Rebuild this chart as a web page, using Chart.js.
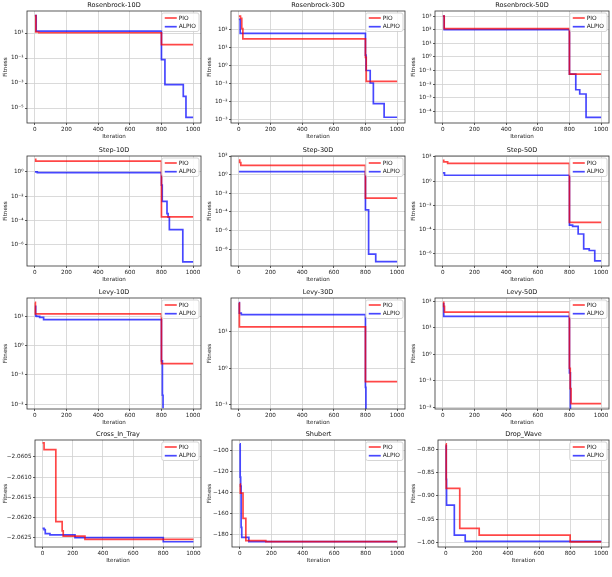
<!doctype html>
<html>
<head>
<meta charset="utf-8">
<title>PIO vs ALPIO convergence</title>
<style>
  html, body { margin:0; padding:0; background:#fff; }
  #grid { position:relative; width:612px; height:577px; overflow:hidden; }
  #grid canvas { position:absolute; }
</style>
</head>
<body>
<div id="grid"></div>
<script src="https://cdn.jsdelivr.net/npm/chart.js@4.4.1/dist/chart.umd.min.js"></script>
<script>
// ---- data ----
const titles = ['Rosenbrock-10D', 'Rosenbrock-30D', 'Rosenbrock-50D',
                'Step-10D', 'Step-30D', 'Step-50D',
                'Levy-10D', 'Levy-30D', 'Levy-50D',
                'Cross_In_Tray', 'Shubert', 'Drop_Wave'];
const seriesNames = ['PIO', 'ALPIO'];
const iterTicks = [0, 200, 400, 600, 800, 1000];
const iterRange = [-50, 1050];

// Rosenbrock-10D
const rb10PioIter = [0, 6, 25, 800, 1000];
const rb10PioFit = [245, 12, 10.5, 1.17, 1.17];
const rb10AlpioIter = [0, 8, 800, 822, 938, 955, 1000];
const rb10AlpioFit = [245, 14, 0.074, 7.4e-4, 8.5e-5, 1.8e-6, 1.8e-6];
const rb10Exp = [1, -1, -3, -5];
const rb10Range = [-6.2, 2.76]; // log10

// Rosenbrock-30D
const rb30PioIter = [0, 10, 18, 25, 800, 805, 1000];
const rb30PioFit = [600, 450, 120, 31.6, 3, 0.135, 0.135];
const rb30AlpioIter = [0, 8, 800, 804, 830, 850, 918, 1000];
const rb30AlpioFit = [390, 65, 4, 0.55, 0.11, 0.0078, 0.00135, 0.00135];
const rb30Exp = [2, 1, 0, -1, -2, -3];
const rb30Range = [-3.19, 3.06];

// Rosenbrock-50D
const rb50PioIter = [0, 8, 800, 1000];
const rb50PioFit = [1000, 118, 0.054, 0.054];
const rb50AlpioIter = [0, 8, 800, 840, 865, 905, 1000];
const rb50AlpioFit = [1000, 100, 0.054, 0.0039, 0.0019, 3.6e-5, 3.6e-5];
const rb50Exp = [3, 2, 1, 0, -1, -2, -3, -4];
const rb50Range = [-4.85, 3.37];

// Step-10D
const st10PioIter = [0, 5, 800, 1000];
const st10PioFit = [10.5, 7.6, 2e-4, 2e-4];
const st10AlpioIter = [0, 15, 800, 805, 835, 842, 850, 935, 1000];
const st10AlpioFit = [1.0, 0.85, 0.08, 0.0037, 3.6e-4, 1.9e-4, 1.8e-5, 4e-8, 4e-8];
const st10Exp = [0, -2, -4, -6];
const st10Range = [-7.74, 1.3];

// Step-30D
const st30PioIter = [0, 5, 12, 800, 1000];
const st30PioFit = [37, 20, 10, 0.003, 0.003];
const st30AlpioIter = [0, 800, 820, 865, 1000];
const st30AlpioFit = [2.1, 1.6e-4, 2.9e-9, 4.4e-10, 4.4e-10];
const st30Exp = [2, 0, -2, -4, -6, -8];
const st30Range = [-9.82, 2.0];

// Step-50D
const st50PioIter = [0, 5, 30, 800, 1000];
const st50PioFit = [53, 39, 30, 4e-4, 4e-4];
const st50AlpioIter = [0, 10, 800, 820, 855, 890, 925, 960, 1000];
const st50AlpioFit = [4.8, 3.1, 2.4e-4, 1.9e-4, 4.4e-5, 2.6e-6, 1.9e-6, 2.6e-7, 2.6e-7];
const st50Exp = [2, 0, -2, -4, -6];
const st50Range = [-7.0, 2.08];

// Levy-10D (ALPIO reaches 0 after ~810, so its line ends there)
const lv10PioIter = [0, 3, 800, 1000];
const lv10PioFit = [30, 12.3, 0.24, 0.24];
const lv10AlpioIter = [0, 5, 10, 30, 55, 800, 806, 810];
const lv10AlpioFit = [22, 10.5, 10, 9.3, 7.7, 0.3, 0.02, 0.0072];
const lv10Exp = [1, 0, -1, -2];
const lv10Range = [-2.17, 1.63];

// Levy-30D
const lv30PioIter = [0, 3, 800, 1000];
const lv30PioFit = [58, 13.1, 0.43, 0.43];
const lv30AlpioIter = [0, 3, 15, 800, 803];
const lv30AlpioFit = [60, 31, 28, 0.3, 0.07];
const lv30Exp = [1, 0, -1];
const lv30Range = [-1.11, 1.9];

// Levy-50D
const lv50PioIter = [0, 5, 10, 800, 805, 810, 1000];
const lv50PioFit = [92, 65, 39, 0.3, 0.051, 0.014, 0.014];
const lv50AlpioIter = [0, 5, 800, 806];
const lv50AlpioFit = [81, 27, 0.2, 0.008];
const lv50Exp = [2, 1, 0, -1, -2];
const lv50Range = [-2.06, 2.125];

// Cross_In_Tray
const citPioIter = [0, 10, 88, 130, 137, 281, 1000];
const citPioFit = [-2.06015, -2.06032, -2.0621, -2.06233, -2.06246, -2.06254, -2.06254];
const citAlpioIter = [0, 10, 18, 49, 215, 800, 1000];
const citAlpioFit = [-2.06227, -2.0623, -2.0624, -2.06243, -2.0625, -2.0626, -2.0626];
const citTicks = [-2.0605, -2.0610, -2.0615, -2.0620, -2.0625];
const citTickLabels = ['\u22122.0605', '\u22122.0610', '\u22122.0615', '\u22122.0620', '\u22122.0625'];
const citRange = [-2.06273, -2.06008];

// Shubert
const shuPioIter = [0, 3, 20, 38, 165, 1000];
const shuPioFit = [-132, -140.5, -164.6, -185.6, -186.6, -186.6];
const shuAlpioIter = [0, 2, 5, 8, 12, 57, 1000];
const shuAlpioFit = [-93.8, -125.5, -134, -173, -182.5, -186.6, -186.6];
const shuTicks = [-100, -120, -140, -160, -180];
const shuTickLabels = ['\u2212100', '\u2212120', '\u2212140', '\u2212160', '\u2212180'];
const shuRange = [-191.7, -90.2];

// Drop_Wave
const dwPioIter = [0, 3, 90, 215, 800, 1000];
const dwPioFit = [-0.7875, -0.8836, -0.970, -0.985, -0.9995, -0.9995];
const dwAlpioIter = [0, 3, 5, 55, 125, 1000];
const dwAlpioFit = [-0.791, -0.864, -0.92, -0.985, -0.9985, -0.9985];
const dwTicks = [-0.80, -0.85, -0.90, -0.95, -1.00];
const dwTickLabels = ['\u22120.80', '\u22120.85', '\u22120.90', '\u22120.95', '\u22121.00'];
const dwRange = [-1.0105, -0.779];

// ---- layout (pixels) ----
const plotTop = [11, 156, 298, 440];
const plotBottom = [123, 266, 409, 547];
const yAxisWidth = [[27, 27, 27], [27, 27, 27], [27, 27, 27], [35, 28, 30]];
const colors = ['rgba(255,0,0,0.72)', 'rgba(0,0,255,0.72)'];
const gridColor = '#d0d0d0';
const textColor = '#1a1a1a';

const SUP = { '-': '\u207b', '0': '\u2070', '1': '\u00b9', '2': '\u00b2', '3': '\u00b3',
              '4': '\u2074', '5': '\u2075', '6': '\u2076', '7': '\u2077', '8': '\u2078', '9': '\u2079' };
const powLabel = e => '10' + String(e).split('').map(ch => SUP[ch]).join('');
const pts = (xs, ys) => xs.map((x, i) => ({ x, y: ys[i] }));

function logSpec(pi, pf, ai, af, exps, range) {
  return { log: true, pio: pts(pi, pf), alpio: pts(ai, af),
           tickVals: exps.map(e => Math.pow(10, e)), tickLabels: exps.map(powLabel),
           min: Math.pow(10, range[0]), max: Math.pow(10, range[1]) };
}
function linSpec(pi, pf, ai, af, ticks, labels, range) {
  return { log: false, pio: pts(pi, pf), alpio: pts(ai, af),
           tickVals: ticks, tickLabels: labels, min: range[0], max: range[1] };
}

const specs = [
  logSpec(rb10PioIter, rb10PioFit, rb10AlpioIter, rb10AlpioFit, rb10Exp, rb10Range),
  logSpec(rb30PioIter, rb30PioFit, rb30AlpioIter, rb30AlpioFit, rb30Exp, rb30Range),
  logSpec(rb50PioIter, rb50PioFit, rb50AlpioIter, rb50AlpioFit, rb50Exp, rb50Range),
  logSpec(st10PioIter, st10PioFit, st10AlpioIter, st10AlpioFit, st10Exp, st10Range),
  logSpec(st30PioIter, st30PioFit, st30AlpioIter, st30AlpioFit, st30Exp, st30Range),
  logSpec(st50PioIter, st50PioFit, st50AlpioIter, st50AlpioFit, st50Exp, st50Range),
  logSpec(lv10PioIter, lv10PioFit, lv10AlpioIter, lv10AlpioFit, lv10Exp, lv10Range),
  logSpec(lv30PioIter, lv30PioFit, lv30AlpioIter, lv30AlpioFit, lv30Exp, lv30Range),
  logSpec(lv50PioIter, lv50PioFit, lv50AlpioIter, lv50AlpioFit, lv50Exp, lv50Range),
  linSpec(citPioIter, citPioFit, citAlpioIter, citAlpioFit, citTicks, citTickLabels, citRange),
  linSpec(shuPioIter, shuPioFit, shuAlpioIter, shuAlpioFit, shuTicks, shuTickLabels, shuRange),
  linSpec(dwPioIter, dwPioFit, dwAlpioIter, dwAlpioFit, dwTicks, dwTickLabels, dwRange)
];

Chart.defaults.font.family = '"DejaVu Sans", sans-serif';
Chart.defaults.color = textColor;

// axes frame (all four spines, like matplotlib)
const frame = {
  id: 'frame',
  afterDatasetsDraw(chart) {
    const { ctx, chartArea: a } = chart;
    ctx.save();
    ctx.strokeStyle = '#333';
    ctx.lineWidth = 0.8;
    ctx.strokeRect(a.left, a.top, a.right - a.left, a.bottom - a.top);
    ctx.restore();
  }
};

// legend box in the upper right corner of the plot
const boxLegend = {
  id: 'boxLegend',
  afterDraw(chart) {
    const { ctx, chartArea: a } = chart;
    const sets = chart.data.datasets;
    ctx.save();
    ctx.font = '5.9px "DejaVu Sans"';
    const tw = Math.max(...sets.map(d => ctx.measureText(d.label).width));
    const w = 3 + 12 + 2 + tw + 3, h = 18.5;
    const x = a.right - 2 - w, y = a.top + 2;
    ctx.fillStyle = 'rgba(255,255,255,0.85)';
    ctx.strokeStyle = '#cccccc';
    ctx.lineWidth = 0.8;
    ctx.beginPath();
    ctx.roundRect(x, y, w, h, 2);
    ctx.fill();
    ctx.stroke();
    sets.forEach((d, i) => {
      const cy = y + 5 + i * 8.7;
      ctx.strokeStyle = d.borderColor;
      ctx.lineWidth = 1.7;
      ctx.beginPath();
      ctx.moveTo(x + 3, cy);
      ctx.lineTo(x + 15, cy);
      ctx.stroke();
      ctx.fillStyle = textColor;
      ctx.textBaseline = 'middle';
      ctx.fillText(d.label, x + 17, cy);
    });
    ctx.restore();
  }
};

const grid = document.getElementById('grid');

specs.forEach((c, i) => {
  const row = Math.floor(i / 3), col = i % 3;
  const top = plotTop[row] - 11;
  const h = plotBottom[row] - plotTop[row] + 28;
  const yw = yAxisWidth[row][col];

  const cv = document.createElement('canvas');
  cv.width = 204; cv.height = h;
  cv.style.left = (col * 204) + 'px';
  cv.style.top = top + 'px';
  cv.style.width = '204px';
  cv.style.height = h + 'px';
  grid.appendChild(cv);

  new Chart(cv, {
    type: 'line',
    data: {
      datasets: [c.pio, c.alpio].map((d, k) => ({
        label: seriesNames[k],
        data: d,
        borderColor: colors[k],
        borderWidth: 1.7,
        pointRadius: 0,
        stepped: 'before',
        fill: false
      }))
    },
    options: {
      responsive: false,
      animation: false,
      devicePixelRatio: 1,
      layout: { padding: { left: 0, right: 3, top: 0, bottom: 0 } },
      plugins: {
        legend: { display: false },
        tooltip: { enabled: false },
        title: {
          display: true, text: titles[i], fullSize: false, color: '#111',
          font: { size: 6.5, weight: 'normal' }, padding: { top: 1.8, bottom: 1.4 }
        }
      },
      scales: {
        x: {
          type: 'linear', min: iterRange[0], max: iterRange[1], bounds: 'data',
          afterBuildTicks: s => { s.ticks = iterTicks.map(v => ({ value: v })); },
          afterFit: s => { s.height = 17; },
          ticks: { font: { size: 5.7 }, padding: 1, maxRotation: 0, autoSkip: false,
                   callback: v => String(v) },
          grid: { color: gridColor, lineWidth: 0.8, tickLength: 2, tickColor: '#333' },
          border: { display: false },
          title: { display: true, text: 'Iteration', font: { size: 5.6 }, padding: { top: 0, bottom: 0.3 } }
        },
        y: {
          type: c.log ? 'logarithmic' : 'linear', min: c.min, max: c.max, bounds: 'data',
          afterBuildTicks: s => { s.ticks = c.tickVals.map(v => ({ value: v })); },
          afterFit: s => { s.width = yw; },
          ticks: { font: { size: 5.7 }, padding: 1.5, autoSkip: false,
                   callback: (v, idx) => c.tickLabels[idx] },
          grid: { color: gridColor, lineWidth: 0.8, tickLength: 2, tickColor: '#333' },
          border: { display: false },
          title: { display: true, text: 'Fitness', font: { size: 5.6 }, padding: { top: 2.6, bottom: 0 } }
        }
      }
    },
    plugins: [frame, boxLegend]
  });
});
</script>
</body>
</html>
